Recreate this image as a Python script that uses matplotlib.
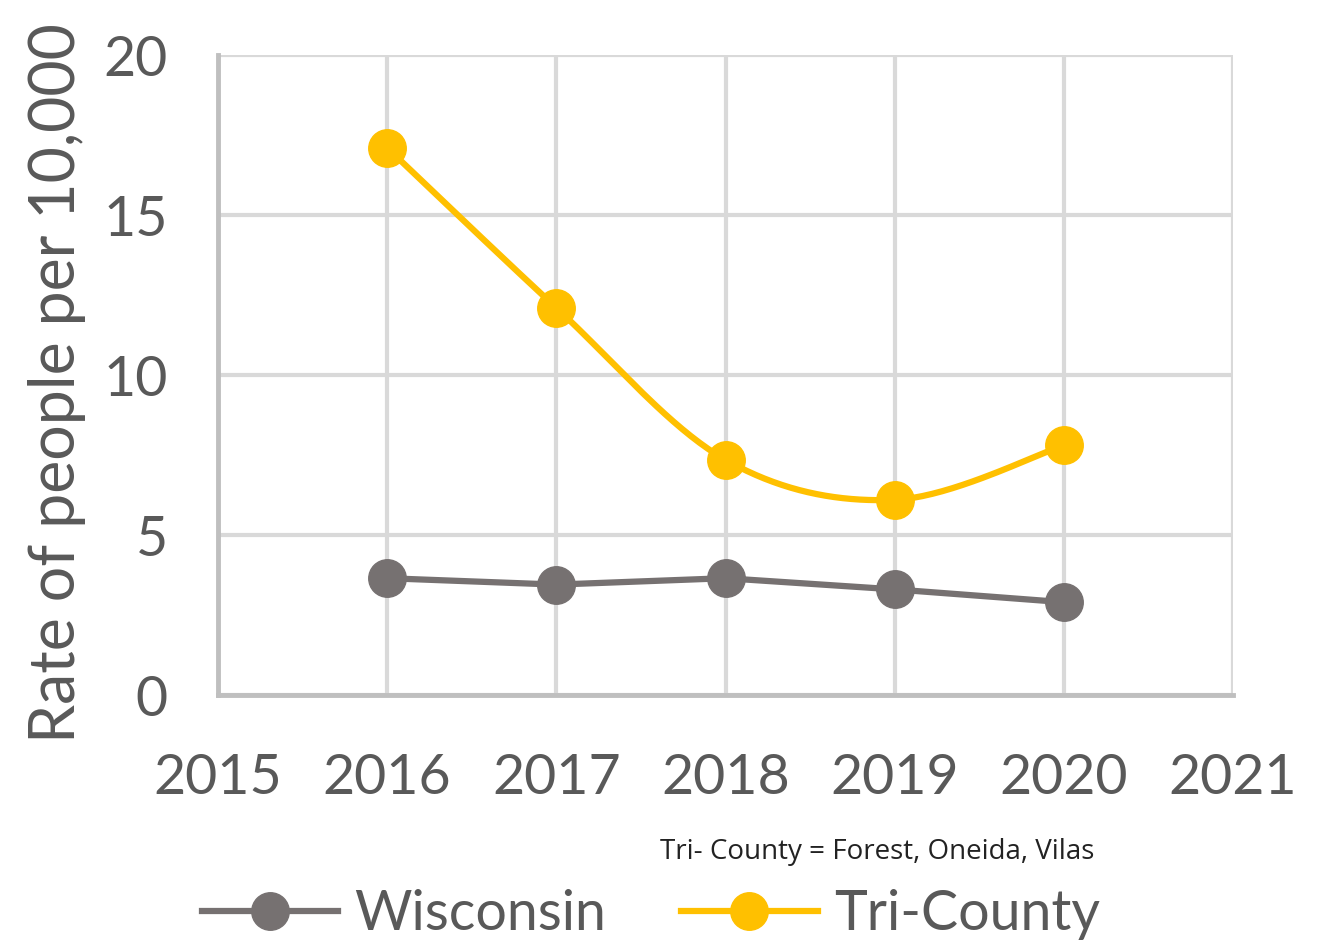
import numpy as np
import matplotlib
matplotlib.use("Agg")
import matplotlib.pyplot as plt
from matplotlib.lines import Line2D

years = [2016, 2017, 2018, 2019, 2020]
wisconsin = [3.65, 3.45, 3.65, 3.3, 2.9]
tri_county = [17.1, 12.1, 7.35, 6.1, 7.8]
series_names = ["Wisconsin", "Tri-County"]
note = "Tri- County = Forest, Oneida, Vilas"
ylabel = "Rate of people per 10,000"

GREY_TXT = "#595959"
WI_COL = "#767171"
TC_COL = "#FFC000"

def smooth(x, y, n=40):
    x = np.asarray(x, float); y = np.asarray(y, float)
    px = np.concatenate([[x[0]], x, [x[-1]]])
    py = np.concatenate([[y[0]], y, [y[-1]]])
    xs, ys = [], []
    for i in range(1, len(px) - 2):
        p0 = np.array([px[i], py[i]]); p1 = np.array([px[i+1], py[i+1]])
        c0 = p0 + (np.array([px[i+1], py[i+1]]) - np.array([px[i-1], py[i-1]])) / 6
        c1 = p1 - (np.array([px[i+2], py[i+2]]) - np.array([px[i], py[i]])) / 6
        t = np.linspace(0, 1, n)[:, None]
        b = (1-t)**3*p0 + 3*(1-t)**2*t*c0 + 3*(1-t)*t**2*c1 + t**3*p1
        xs.extend(b[:, 0]); ys.extend(b[:, 1])
    return xs, ys

fig = plt.figure(figsize=(13.4, 9.4), dpi=100)
ax = fig.add_axes([218/1340, 1-695/940, (1233-218)/1340, (695-55)/940])

ax.set_xlim(2015, 2021)
ax.set_ylim(0, 20)
ax.set_xticks(range(2015, 2022))
ax.set_yticks([0, 5, 10, 15, 20])
ax.grid(True, color="#D9D9D9", linewidth=3)
ax.set_axisbelow(True)
for s in ["top", "right"]:
    ax.spines[s].set_visible(False)
for s in ["left", "bottom"]:
    ax.spines[s].set_color("#BFBFBF")
    ax.spines[s].set_linewidth(3.5)
ax.tick_params(length=0, labelsize=40, colors=GREY_TXT, labelcolor=GREY_TXT)
ax.tick_params(axis="x", pad=42)
ax.tick_params(axis="y", pad=36)
for lab in ax.get_xticklabels() + ax.get_yticklabels():
    lab.set_fontfamily("Lato")

ax.plot(years, wisconsin, color=WI_COL, linewidth=4.5, marker="o",
        markersize=27, solid_capstyle="round", clip_on=False, zorder=3)
sx, sy = smooth(years, tri_county)
ax.plot(sx, sy, color=TC_COL, linewidth=4.5, solid_capstyle="round", clip_on=False, zorder=3)
ax.plot(years, tri_county, linestyle="none", marker="o", color=TC_COL,
        markersize=27, clip_on=False, zorder=4)

fig.text(57/1340, 1-383/940, ylabel, rotation=90, ha="center", va="center",
         fontsize=45, color=GREY_TXT, family="Lato")
fig.text(660/1340, 1-852/940, note, ha="left", va="center", fontsize=20,
         color="#222222", family="Open Sans")

handles = [Line2D([], [], color=WI_COL, lw=4.5, marker="o", markersize=27),
           Line2D([], [], color=TC_COL, lw=4.5, marker="o", markersize=27)]
leg = fig.legend(handles, series_names, loc="center", bbox_to_anchor=(651/1340, 1-915/940),
                 ncol=2, frameon=False, handlelength=2.45, handletextpad=0.3,
                 columnspacing=1.35, prop={"family": "Lato", "size": 40})
for t in leg.get_texts():
    t.set_color(GREY_TXT)

fig.savefig("out.png", dpi=100)
